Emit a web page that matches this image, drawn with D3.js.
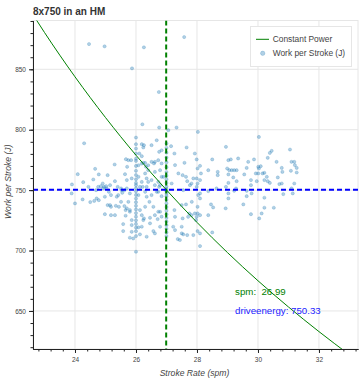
<!DOCTYPE html>
<html>
<head>
<meta charset="utf-8">
<script src="https://cdn.jsdelivr.net/npm/d3@7"></script>
<style>
  html, body { margin: 0; padding: 0; background: #fff; }
  svg { display: block; font-family: "Liberation Sans", Arial, Helvetica, sans-serif; }
</style>
</head>
<body>
<div id="chart"></div>
<script>
// ---------------- data ----------------
const title = "8x750 in an HM";
const xLabel = "Stroke Rate (spm)";
const yLabel = "Work per Stroke (J)";
const legendLabels = ["Constant Power", "Work per Stroke (J)"];
const xTicks = [24, 26, 28, 30, 32];
const yTicks = [650, 700, 750, 800, 850];
const meanSpm = 26.99;
const meanEnergy = 750.33;

// constant power curve
const powerSpm  = [22.6, 23, 24, 25, 26, 27, 28, 29, 30, 31, 32, 33];
const powerWork = [896.1, 880.5, 843.8, 810.1, 778.9, 750.1, 723.3, 698.3, 675.0, 653.3, 632.9, 613.7];

// [stroke rate, work per stroke]
const strokes = [
  [24.46,870.9],[24.97,869.0],[25.87,850.8],[26.26,868.2],[26.75,831.2],[27.58,876.7],
  [26.21,804.5],[26.76,801.8],[27.33,801.8],[28.03,798.2],[30.03,794.0],[24.30,788.8],
  [24.09,763.2],[23.90,754.7],[23.89,747.3],[24.00,739.0],[24.27,756.6],[24.25,742.3],[24.44,752.7],
  [24.50,740.1],[24.66,767.6],[24.60,758.8],[24.69,750.0],[24.78,763.0],[24.78,741.7],[24.91,755.5],
  [24.95,752.7],[25.02,753.3],[25.07,762.4],[25.11,748.6],[25.18,745.9],[25.15,737.6],[25.30,771.2],
  [25.31,757.4],[25.37,744.5],[25.44,736.2],[25.31,729.3],[25.53,750.0],[25.58,721.9],[25.67,775.6],
  [25.71,769.3],[25.70,758.3],[25.75,740.3],[25.80,732.1],[25.86,715.5],[25.91,710.0],[25.86,725.2],
  [25.64,763.2],[24.76,752.7],[24.85,753.3],[24.93,751.4],[25.04,751.4],[25.15,754.1],[25.40,752.7],
  [25.51,751.4],[25.62,750.0],[25.70,751.4],[24.71,743.1],[24.98,744.5],[25.42,745.9],[25.55,747.8],
  [24.63,741.1],[25.07,737.6],[25.18,736.2],[25.34,737.0],[24.98,730.1],[25.18,729.3],[25.51,740.3],
  [25.62,736.8],[25.66,733.5],[25.66,728.8],[25.58,716.1],
  [26.0,793.5],[26.0,788.0],[26.0,784.4],[26.0,780.3],[26.0,776.0],[26.0,774.2],[26.0,770.0],
  [26.0,766.0],[26.0,762.5],[26.0,759.0],[26.0,756.0],[26.0,754.1],[26.0,751.5],[26.0,749.0],
  [26.0,746.0],[26.0,743.0],[26.0,740.0],[26.0,737.0],[26.0,734.0],[26.0,731.0],[26.0,728.0],
  [26.0,725.0],[26.0,722.0],[26.0,719.0],[26.0,716.0],[26.0,712.0],[26.0,699.0],
  [27.06,799.6],[27.0,788.6],[27.0,785.0],[27.0,781.0],[27.0,777.0],[27.0,773.0],[27.0,769.0],
  [27.0,765.0],[27.0,762.0],[27.0,759.0],[27.0,756.0],[27.0,753.0],[27.0,751.0],[27.0,749.0],
  [27.0,747.0],[27.0,745.0],[27.0,742.0],[27.0,739.0],[27.0,736.0],[27.0,733.0],[27.0,730.0],
  [27.0,727.0],[27.0,724.0],[27.0,721.0],[27.0,718.0],[27.0,715.0],[27.0,712.0],
  [26.11,780.3],[26.19,778.1],[26.26,787.2],[26.24,772.6],[26.33,769.3],[26.40,766.5],[26.51,773.4],
  [26.59,772.1],[26.68,791.3],[26.76,781.7],[26.84,772.1],[26.90,761.0],[26.22,752.7],[26.35,744.5],
  [26.44,740.3],[26.57,736.2],[26.68,748.6],[26.73,732.1],[26.84,728.0],[26.13,733.5],[26.26,726.6],
  [26.19,719.7],[26.46,722.5],[26.35,711.4],[26.62,714.2],[26.79,719.7],[26.51,758.3],[26.35,759.7],
  [26.62,754.1],[26.76,752.7],
  [26.19,788.0],[26.24,785.3],[25.75,774.8],[25.84,774.8],[26.08,770.6],[26.19,772.0],[26.30,772.5],
  [26.40,770.6],[26.62,773.4],[26.73,774.8],[26.51,787.2],[26.84,783.0],[26.79,766.5],[26.62,765.1],
  [26.30,763.8],[26.08,761.0],[25.86,759.7],[26.19,756.8],[26.40,756.8],[26.73,756.8],[26.84,761.0],
  [26.13,752.7],[26.35,752.7],[26.79,754.1],[25.80,747.3],[26.08,745.9],[26.30,748.6],[26.51,745.9],
  [26.73,748.6],[26.84,745.0],
  [25.70,734.9],[25.80,733.5],[25.86,721.1],[25.80,710.6],[26.19,729.3],[26.24,725.2],[26.30,736.2],
  [26.46,727.1],[26.57,716.1],[26.62,729.3],[26.71,726.0],[26.79,732.1],[26.08,719.2],[26.13,713.4],
  [27.15,786.4],[27.26,780.3],[27.66,785.3],[27.93,780.3],[27.59,772.6],[27.28,770.7],[27.39,763.8],
  [27.64,761.0],[27.88,759.7],[28.02,767.9],[27.17,755.5],[27.82,755.5],[27.55,750.0],[27.53,762.4],
  [27.68,757.4],[27.77,754.1],[27.50,737.6],[27.64,738.2],[27.75,730.7],[27.82,729.3],[27.93,730.7],
  [27.53,726.6],[27.71,727.9],[27.88,712.8],[27.68,712.8],[27.50,719.7],[27.97,725.2],[27.50,714.2],
  [27.26,733.5],[27.28,727.9],[27.22,719.7],[27.28,716.9],[27.37,709.5],[27.44,708.7],[27.55,713.4],
  [27.83,740.3],[28.02,730.7],
  [27.99,775.4],[28.10,770.1],[28.13,763.8],[27.99,759.7],[28.10,758.3],[28.02,755.5],[27.99,752.7],
  [28.37,766.5],[28.50,775.4],[28.68,765.1],[28.68,762.4],[28.95,785.8],[28.99,767.9],[29.03,774.8],
  [29.11,775.4],[29.06,766.5],[29.14,766.5],[29.22,766.5],[29.30,766.5],[29.19,760.5],[29.30,757.4],
  [29.03,763.0],[29.03,756.0],[29.35,776.2],[29.55,763.0],[29.63,768.4],[29.68,773.4],[29.77,758.3],
  [29.77,754.1],[29.87,775.4],[29.93,763.8],[29.96,757.4],[30.01,769.3],[30.03,767.9],[30.09,769.8],
  [30.01,763.8],[30.15,763.8],[30.21,764.3],[30.32,776.7],[30.39,780.8],[30.45,782.5],[30.21,758.3],
  [30.32,757.4],[30.39,756.0],[30.29,761.0],[30.61,773.4],[30.65,760.5],[30.70,755.0],[30.78,755.5],
  [30.78,768.4],[30.80,765.1],[31.05,783.6],[31.10,773.4],[31.19,773.4],[31.21,770.7],[31.08,766.0],
  [31.27,768.4],[31.27,764.6],[31.19,755.5],[31.10,751.4],
  [28.37,749.2],[28.64,751.4],[28.95,752.7],[29.03,747.3],[29.03,743.1],[29.22,749.4],[29.28,751.4],
  [29.63,745.0],[29.63,749.4],[29.79,747.3],[30.21,743.7],[30.83,746.7],[31.14,747.3],[28.04,745.9],
  [28.10,747.3],
  [28.10,743.1],[28.02,736.2],[27.99,727.9],[28.02,716.1],[28.10,714.2],[28.10,703.7],[28.46,738.2],
  [28.53,735.7],[28.37,729.3],[28.50,715.0],[28.94,734.9],[29.52,738.2],[29.77,730.1],[30.04,726.6],
  [30.12,730.7],[30.21,735.4],[30.52,735.4],[28.10,729.3]
];

// ---------------- layout ----------------
const W = 361, H = 380;
const frame = { left: 33, top: 20.5, right: 358, bottom: 349 };
const xDomain = [22.623, 33.28];
const yDomain = [618.5, 890.4];
const textColor = "#444";

const svg = d3.select("#chart").append("svg").attr("width", W).attr("height", H);

const x = d3.scaleLinear().domain(xDomain).range([frame.left, frame.right]);
const y = d3.scaleLinear().domain(yDomain).range([frame.bottom, frame.top]);

svg.append("defs").append("clipPath").attr("id", "clip")
  .append("rect").attr("x", frame.left).attr("y", frame.top)
  .attr("width", frame.right - frame.left).attr("height", frame.bottom - frame.top);

// grid
const grid = svg.append("g");
grid.selectAll(".gx").data(xTicks).join("line")
  .attr("x1", d => x(d)).attr("x2", d => x(d))
  .attr("y1", frame.top).attr("y2", frame.bottom)
  .attr("stroke", "#e6e6e6").attr("stroke-width", 1);
grid.selectAll(".gy").data(yTicks).join("line")
  .attr("x1", frame.left).attr("x2", frame.right)
  .attr("y1", d => y(d)).attr("y2", d => y(d))
  .attr("stroke", "#e6e6e6").attr("stroke-width", 1);
svg.append("rect").attr("x", frame.left).attr("y", frame.top)
  .attr("width", frame.right - frame.left).attr("height", frame.bottom - frame.top)
  .attr("fill", "none").attr("stroke", "#e6e6e6").attr("stroke-width", 1);

const plot = svg.append("g").attr("clip-path", "url(#clip)");

// scatter
plot.selectAll("circle.pt").data(strokes).join("circle")
  .attr("class", "pt")
  .attr("cx", d => x(d[0])).attr("cy", d => y(d[1]))
  .attr("r", 1.6)
  .attr("fill", "#1f77b4").attr("fill-opacity", 0.35)
  .attr("stroke", "#1f77b4").attr("stroke-opacity", 0.35).attr("stroke-width", 0.6);

// constant power line
const powerData = powerSpm.map((s, i) => [s, powerWork[i]]);
plot.append("path").datum(powerData)
  .attr("d", d3.line().x(d => x(d[0])).y(d => y(d[1])).curve(d3.curveMonotoneX))
  .attr("fill", "none").attr("stroke", "green").attr("stroke-width", 1);

// mean lines
plot.append("line")
  .attr("x1", x(meanSpm)).attr("x2", x(meanSpm))
  .attr("y1", frame.top).attr("y2", frame.bottom)
  .attr("stroke", "green").attr("stroke-width", 2).attr("stroke-dasharray", "5,3");
plot.append("line")
  .attr("x1", frame.left).attr("x2", frame.right)
  .attr("y1", y(meanEnergy)).attr("y2", y(meanEnergy))
  .attr("stroke", "blue").attr("stroke-width", 2).attr("stroke-dasharray", "5,3");

// axes
function styleAxis(g) {
  g.select(".domain").attr("stroke", "#222");
  g.selectAll(".tick line").attr("stroke", "#222");
  g.selectAll(".tick text").attr("fill", textColor).attr("font-size", "6.5px")
    .attr("font-family", "'Liberation Sans', Arial, sans-serif");
}
const xMinor = d3.range(22.8, 33.3, 0.4);
const yMinor = d3.range(620, 891, 10);

svg.append("g").attr("transform", `translate(0,${frame.bottom})`)
  .call(d3.axisBottom(x).tickValues(xMinor).tickSize(2.5).tickSizeOuter(0).tickFormat(""))
  .call(styleAxis);
svg.append("g").attr("transform", `translate(0,${frame.bottom})`)
  .call(d3.axisBottom(x).tickValues(xTicks).tickSize(4).tickSizeOuter(0).tickPadding(4).tickFormat(d3.format("d")))
  .call(styleAxis);
svg.append("g").attr("transform", `translate(${frame.left},0)`)
  .call(d3.axisLeft(y).tickValues(yMinor).tickSize(2.5).tickSizeOuter(0).tickFormat(""))
  .call(styleAxis);
svg.append("g").attr("transform", `translate(${frame.left},0)`)
  .call(d3.axisLeft(y).tickValues(yTicks).tickSize(4).tickSizeOuter(0).tickPadding(3).tickFormat(d3.format("d")))
  .call(styleAxis);

// axis labels
svg.append("text")
  .attr("x", (frame.left + frame.right) / 2 - 1).attr("y", 375.5)
  .attr("text-anchor", "middle").attr("font-size", "8.6px").attr("font-style", "italic")
  .attr("fill", textColor).text(xLabel);
svg.append("text")
  .attr("transform", `translate(10.5,${(frame.top + frame.bottom) / 2 - 3}) rotate(-90)`)
  .attr("text-anchor", "middle").attr("font-size", "8.6px").attr("font-style", "italic")
  .attr("fill", textColor).text(yLabel);

// title
svg.append("text").attr("x", frame.left).attr("y", 15)
  .attr("font-size", "10px").attr("font-weight", "bold").attr("fill", "#333").text(title);

// annotations
svg.append("text").attr("x", x(29.25)).attr("y", 295)
  .attr("font-size", "9.7px").attr("fill", "green").attr("xml:space", "preserve")
  .text("spm:  " + meanSpm.toFixed(2));
svg.append("text").attr("x", x(29.25)).attr("y", 314)
  .attr("font-size", "9.7px").attr("fill", "#2323ff")
  .text("driveenergy: " + meanEnergy.toFixed(2));

// legend
const lg = svg.append("g");
lg.append("rect").attr("x", 250.5).attr("y", 26.5).attr("width", 101).attr("height", 40)
  .attr("fill", "#fff").attr("stroke", "#e6e6e6").attr("stroke-width", 1);
lg.append("line").attr("x1", 256).attr("x2", 269).attr("y1", 39.3).attr("y2", 39.3)
  .attr("stroke", "green").attr("stroke-width", 1);
lg.append("circle").attr("cx", 262.7).attr("cy", 53.3).attr("r", 2.2)
  .attr("fill", "#1f77b4").attr("fill-opacity", 0.35)
  .attr("stroke", "#1f77b4").attr("stroke-opacity", 0.35).attr("stroke-width", 0.6);
lg.selectAll("text.lt").data(legendLabels).join("text")
  .attr("class", "lt")
  .attr("x", 272.7).attr("y", (d, i) => 39.3 + i * 14 + 3)
  .attr("font-size", "8.4px").attr("fill", textColor).text(d => d);
</script>
</body>
</html>
